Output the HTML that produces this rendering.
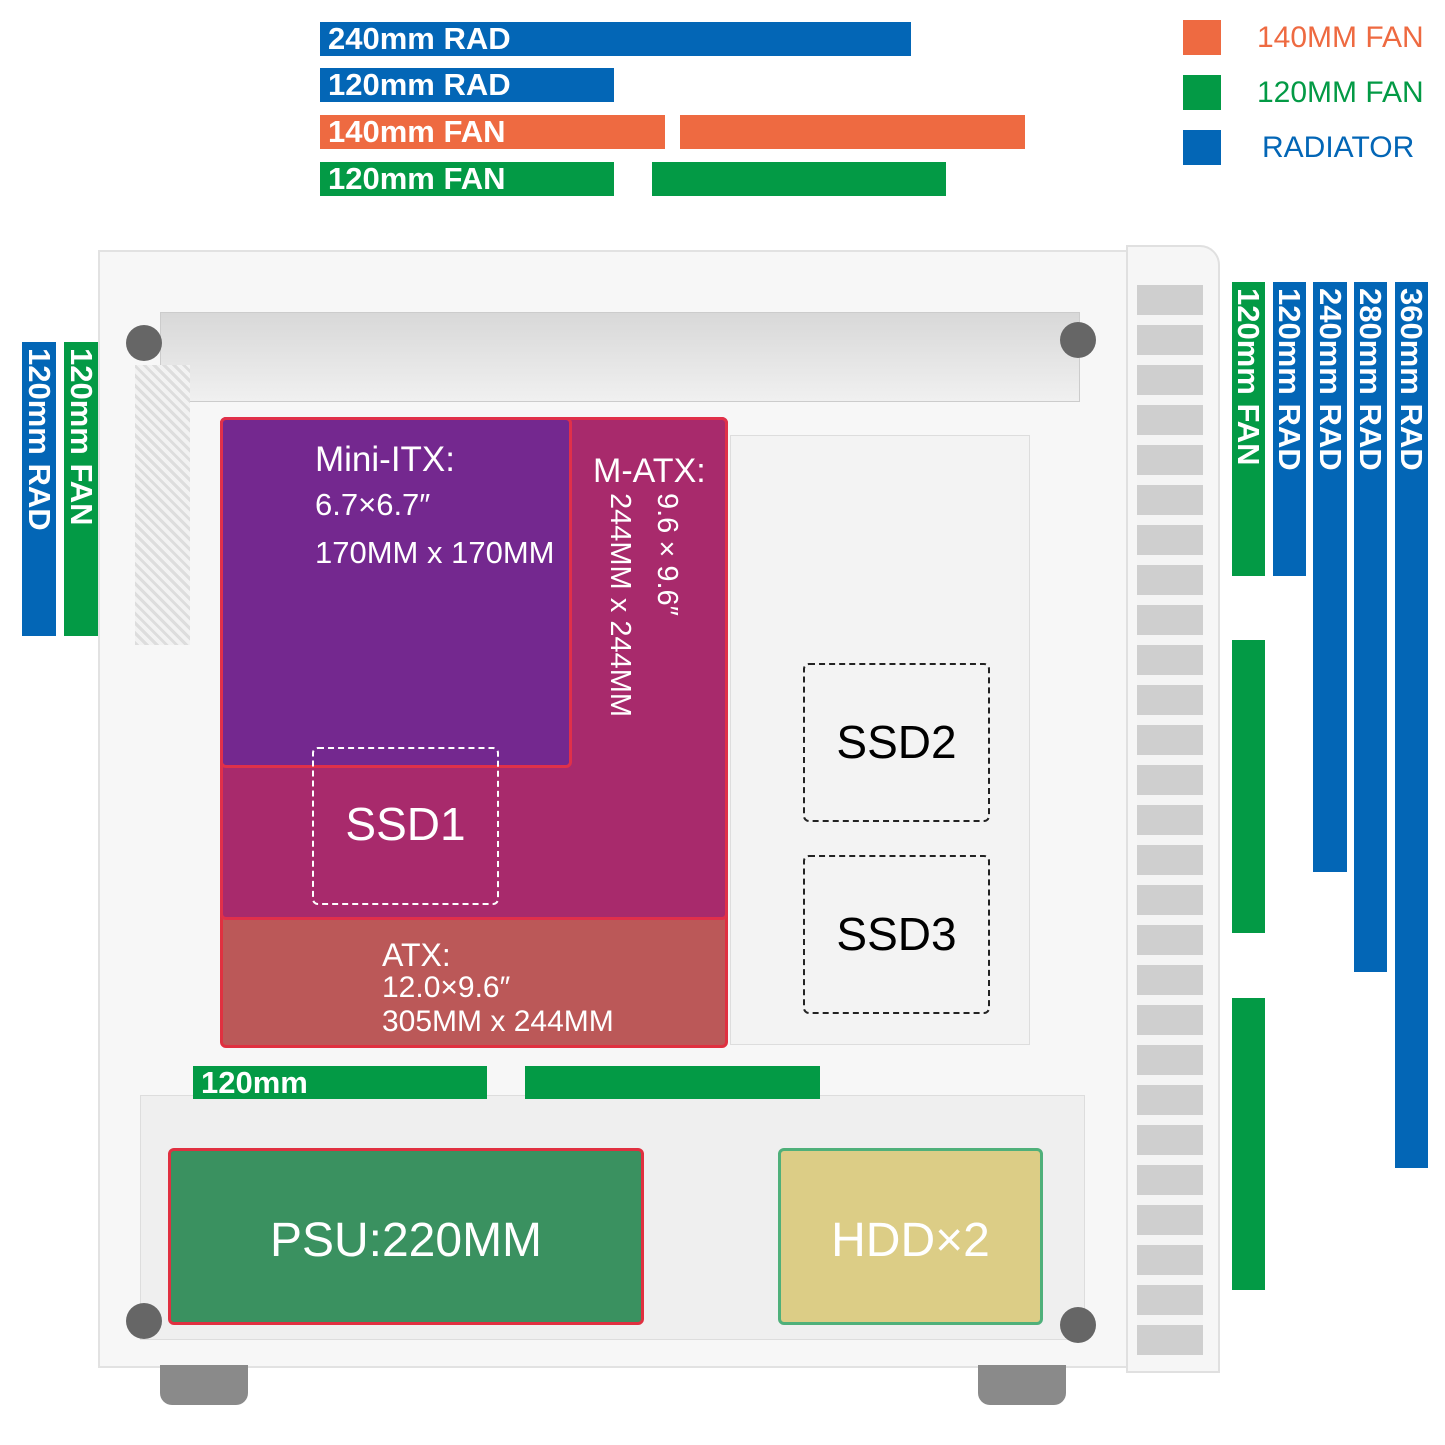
<!DOCTYPE html>
<html><head><meta charset="utf-8"><style>
body{margin:0;width:1445px;height:1445px;background:#fff;position:relative;overflow:hidden;font-family:"Liberation Sans",sans-serif}
.a{position:absolute;box-sizing:border-box}
.bar{font-weight:bold;color:#fff;font-size:31px;line-height:33px;padding-left:8px}
.b{background:#0366b6}.g{background:#039a45}.o{background:#ee6a41}
.v{writing-mode:vertical-rl;font-weight:bold;color:#fff;font-size:31px;line-height:33px;padding-top:6px}
.lg{font-size:30px}
</style></head><body>
<div class="a bar b" style="left:320px;top:22px;width:591px;height:34px">240mm RAD</div>
<div class="a bar b" style="left:320px;top:68px;width:294px;height:34px">120mm RAD</div>
<div class="a bar o" style="left:320px;top:115px;width:345px;height:34px">140mm FAN</div>
<div class="a o" style="left:680px;top:115px;width:345px;height:34px"></div>
<div class="a bar g" style="left:320px;top:162px;width:294px;height:34px">120mm FAN</div>
<div class="a g" style="left:652px;top:162px;width:294px;height:34px"></div>

<div class="a o" style="left:1183px;top:20px;width:38px;height:35px"></div>
<div class="a lg" style="left:1257px;top:21px;color:#ee6a41">140MM FAN</div>
<div class="a g" style="left:1183px;top:75px;width:38px;height:35px"></div>
<div class="a lg" style="left:1257px;top:76px;color:#039a45">120MM FAN</div>
<div class="a b" style="left:1183px;top:130px;width:38px;height:35px"></div>
<div class="a lg" style="left:1262px;top:131px;color:#0366b6">RADIATOR</div>

<!-- case -->
<div class="a" style="left:98px;top:250px;width:1030px;height:1118px;background:#f7f7f7;border:2px solid #e2e2e2"></div>
<div class="a" style="left:1126px;top:245px;width:94px;height:1128px;background:#f6f6f6;border:2px solid #e0e0e0;border-radius:0 20px 0 0"></div>
<div class="a" style="left:1137px;top:285px;width:66px;height:1070px;background:repeating-linear-gradient(#cfcfcf 0 30px,#f4f4f4 30px 40px)"></div>
<div class="a" style="left:160px;top:312px;width:920px;height:90px;background:linear-gradient(#d8d8d8,#f0f0f0);border:1px solid #ccc"></div>
<div class="a" style="left:135px;top:365px;width:55px;height:280px;background:repeating-linear-gradient(45deg,#ddd 0 3px,#f2f2f2 3px 7px)"></div>
<div class="a" style="left:140px;top:1095px;width:945px;height:245px;background:#efefef;border:1px solid #ddd"></div>
<div class="a" style="left:730px;top:435px;width:300px;height:610px;background:#f3f3f3;border:1px solid #ddd"></div>
<div class="a" style="left:160px;top:1365px;width:88px;height:40px;background:#8a8a8a;border-radius:0 0 12px 12px"></div>
<div class="a" style="left:978px;top:1365px;width:88px;height:40px;background:#8a8a8a;border-radius:0 0 12px 12px"></div>
<div class="a" style="left:126px;top:325px;width:36px;height:36px;border-radius:50%;background:#666"></div>
<div class="a" style="left:1060px;top:322px;width:36px;height:36px;border-radius:50%;background:#666"></div>
<div class="a" style="left:126px;top:1303px;width:36px;height:36px;border-radius:50%;background:#666"></div>
<div class="a" style="left:1060px;top:1307px;width:36px;height:36px;border-radius:50%;background:#666"></div>

<!-- side bars -->
<div class="a v b" style="left:22px;top:342px;width:34px;height:294px">120mm RAD</div>
<div class="a v g" style="left:64px;top:342px;width:34px;height:294px">120mm FAN</div>
<div class="a v g" style="left:1232px;top:282px;width:33px;height:294px">120mm FAN</div>
<div class="a g" style="left:1232px;top:640px;width:33px;height:293px"></div>
<div class="a g" style="left:1232px;top:998px;width:33px;height:292px"></div>
<div class="a v b" style="left:1273px;top:282px;width:33px;height:294px">120mm RAD</div>
<div class="a v b" style="left:1313px;top:282px;width:34px;height:590px">240mm RAD</div>
<div class="a v b" style="left:1354px;top:282px;width:33px;height:690px">280mm RAD</div>
<div class="a v b" style="left:1395px;top:282px;width:33px;height:886px">360mm RAD</div>

<!-- boards -->
<div class="a" style="left:220px;top:417px;width:508px;height:631px;background:rgba(176,60,60,.85);border:3px solid #e03040;border-radius:6px"></div>
<div class="a" style="left:220px;top:417px;width:508px;height:503px;background:#a82a6c;border:3px solid #e0304a;border-radius:6px"></div>
<div class="a" style="left:220px;top:417px;width:352px;height:351px;background:#74288f;border:3px solid #e0304a;border-radius:6px"></div>
<div class="a" style="left:312px;top:747px;width:187px;height:158px;border:2px dashed #fff;border-radius:6px;color:#fff;font-size:46px;text-align:center;line-height:150px">SSD1</div>
<div class="a" style="left:315px;top:440px;color:#fff;font-size:35px">Mini-ITX:</div>
<div class="a" style="left:315px;top:487px;color:#fff;font-size:31px">6.7×6.7″</div>
<div class="a" style="left:315px;top:535px;color:#fff;font-size:31px">170MM x 170MM</div>
<div class="a" style="left:593px;top:452px;color:#fff;font-size:34px">M-ATX:</div>
<div class="a" style="left:650px;top:493px;color:#fff;font-size:29px;writing-mode:vertical-rl">9.6×9.6″</div>
<div class="a" style="left:603px;top:493px;color:#fff;font-size:29px;writing-mode:vertical-rl">244MM x 244MM</div>
<div class="a" style="left:382px;top:937px;color:#fff;font-size:32px">ATX:</div>
<div class="a" style="left:382px;top:971px;color:#fff;font-size:30px">12.0×9.6″</div>
<div class="a" style="left:382px;top:1005px;color:#fff;font-size:30px">305MM x 244MM</div>

<div class="a" style="left:803px;top:663px;width:187px;height:159px;border:2px dashed #222;border-radius:6px;font-size:46px;text-align:center;line-height:155px">SSD2</div>
<div class="a" style="left:803px;top:855px;width:187px;height:159px;border:2px dashed #222;border-radius:6px;font-size:46px;text-align:center;line-height:155px">SSD3</div>

<div class="a bar g" style="left:193px;top:1066px;width:294px;height:33px">120mm</div>
<div class="a g" style="left:525px;top:1066px;width:295px;height:33px"></div>

<div class="a" style="left:168px;top:1148px;width:476px;height:177px;background:#3a9160;border:3px solid #e03040;border-radius:6px;color:#fff;font-size:48px;text-align:center;line-height:180px">PSU:220MM</div>
<div class="a" style="left:778px;top:1148px;width:265px;height:177px;background:#dccd86;border:3px solid #4fb07a;border-radius:6px;color:#fff;font-size:48px;text-align:center;line-height:180px">HDD×2</div>
</body></html>
